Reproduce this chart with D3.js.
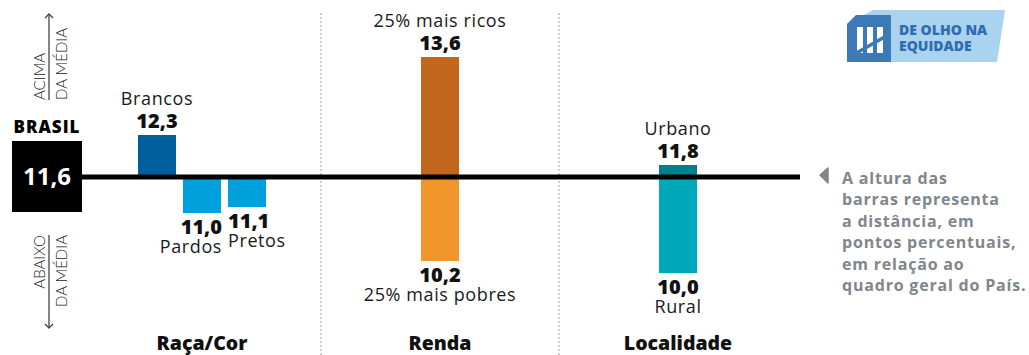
<!DOCTYPE html>
<html>
<head>
<meta charset="utf-8">
<script src="https://cdn.jsdelivr.net/npm/d3@7/dist/d3.min.js"></script>
<style>
  html, body { margin: 0; padding: 0; background: #fff; }
  svg { display: block; font-family: "Open Sans", "Noto Sans", sans-serif; }
</style>
</head>
<body>
<svg id="chart" width="1029" height="355"></svg>
<script>
// Indicator values (percent) by group, compared with the national figure
const brasil = 11.6;
const groups = ["Raça/Cor", "Renda", "Localidade"];
const barLabels = ["Brancos", "Pardos", "Pretos", "25% mais ricos", "25% mais pobres", "Urbano", "Rural"];
const barGroups = ["Raça/Cor", "Raça/Cor", "Raça/Cor", "Renda", "Renda", "Localidade", "Localidade"];
const barSlots = ["Brancos", "Pardos", "Pretos", "Renda", "Renda", "Localidade", "Localidade"];
const barValues = [12.3, 11.0, 11.1, 13.6, 10.2, 11.8, 10.0];
const barColors = ["#00609e", "#00a0dd", "#00a0dd", "#c0661d", "#f0962a", "#00808c", "#00a9b9"];
const noteLines = ["A altura das", "barras representa", "a distância, em", "pontos percentuais,", "em relação ao", "quadro geral do País."];

const bars = barLabels.map((label, i) => ({
  label, group: barGroups[i], slot: barSlots[i], value: barValues[i], color: barColors[i]
}));

const svg = d3.select("#chart");
const fmt = d3.formatLocale({ decimal: ",", thousands: ".", grouping: [3], currency: ["R$", ""] }).format(".1f");

// Scales
const y = d3.scaleLinear().domain([9.6, 13.6]).range([297, 57]);
const xGroup = d3.scaleBand().domain(groups).range([83, 797]);
const slotsOf = g => Array.from(new Set(bars.filter(b => b.group === g).map(b => b.slot)));
const slotScale = {};
groups.forEach(g => {
  const n = slotsOf(g).length;
  slotScale[g] = d3.scaleBand().domain(slotsOf(g))
    .range([-n * 45 / 2, n * 45 / 2])
    .paddingInner(7 / 45).paddingOuter(3.5 / 45);
});
const barX = b => xGroup(b.group) + xGroup.bandwidth() / 2 + slotScale[b.group](b.slot);
const barW = b => slotScale[b.group].bandwidth();
const y0 = y(brasil);

// Group separators
svg.append("g").selectAll("line")
  .data(groups.slice(1))
  .join("line")
  .attr("x1", d => xGroup(d)).attr("x2", d => xGroup(d))
  .attr("y1", 13).attr("y2", 355)
  .attr("stroke", "#9aa0a6").attr("stroke-width", 1)
  .attr("stroke-dasharray", "2,2");

// Bars
svg.append("g").selectAll("rect")
  .data(bars)
  .join("rect")
  .attr("x", barX)
  .attr("width", barW)
  .attr("y", d => Math.min(y(d.value), y0))
  .attr("height", d => Math.abs(y(d.value) - y0))
  .attr("fill", d => d.color);

// Reference line at the national value
svg.append("line")
  .attr("x1", 82).attr("x2", 800)
  .attr("y1", y0).attr("y2", y0)
  .attr("stroke", "#000").attr("stroke-width", 5);

// Bar labels: name and value, above rising bars and below falling ones
const labelAnchor = d => d.label === "Pardos" ? "end" : d.label === "Pretos" ? "start" : "middle";
const labelX = d => {
  const a = labelAnchor(d);
  return a === "end" ? barX(d) + barW(d) + 1 : a === "start" ? barX(d) : barX(d) + barW(d) / 2;
};
const lbl = svg.append("g").selectAll("g").data(bars).join("g");
lbl.append("text")
  .attr("x", labelX)
  .attr("y", d => d.value > brasil ? y(d.value) - 7 : y(d.value) + 21)
  .attr("text-anchor", labelAnchor)
  .attr("font-size", 20).attr("font-weight", 800).attr("fill", "#111")
  .text(d => fmt(d.value));
lbl.append("text")
  .attr("x", labelX)
  .attr("y", d => d.value > brasil ? y(d.value) - 30 : y(d.value) + 40)
  .attr("text-anchor", labelAnchor)
  .attr("font-size", 18).attr("letter-spacing", 0.6).attr("font-weight", 400).attr("fill", "#1a1a1a")
  .text(d => d.label);

// Group names
svg.append("g").selectAll("text")
  .data(groups)
  .join("text")
  .attr("x", d => xGroup(d) + xGroup.bandwidth() / 2)
  .attr("y", 350)
  .attr("text-anchor", "middle")
  .attr("font-size", 19.5).attr("font-weight", 800).attr("fill", "#111")
  .text(d => d);

// National value box
svg.append("text").attr("x", 47).attr("y", 133).attr("text-anchor", "middle")
  .attr("font-size", 17).attr("letter-spacing", 1).attr("font-weight", 800).attr("fill", "#000").text("BRASIL");
svg.append("rect").attr("x", 12).attr("y", y0 - 36).attr("width", 70).attr("height", 71).attr("fill", "#000");
svg.append("text").attr("x", 47).attr("y", y0 + 8).attr("text-anchor", "middle")
  .attr("font-size", 24).attr("font-weight", 700).attr("fill", "#fff").text(fmt(brasil));

// Above / below average side notes
function sideNote(yStart, yEnd, words, anchor) {
  const g = svg.append("g");
  g.append("line").attr("x1", 49).attr("x2", 49).attr("y1", yStart).attr("y2", yEnd)
    .attr("stroke", "#444").attr("stroke-width", 1.3);
  const dir = yEnd < yStart ? 1 : -1;
  g.append("path")
    .attr("d", `M45,${yEnd + dir * 4}L49,${yEnd}L53,${yEnd + dir * 4}`)
    .attr("fill", "none").attr("stroke", "#444").attr("stroke-width", 1.3);
  g.append("text").attr("transform", `translate(45,${yStart}) rotate(-90)`)
    .attr("text-anchor", anchor).attr("font-family", "Lato, sans-serif")
    .attr("font-size", 15).attr("font-weight", 300).attr("fill", "#222")
    .text(words[0]);
  g.append("text").attr("transform", `translate(67,${yStart}) rotate(-90)`)
    .attr("text-anchor", anchor).attr("font-family", "Lato, sans-serif")
    .attr("font-size", 15).attr("font-weight", 300).attr("fill", "#222")
    .text(words[1]);
}
sideNote(100, 14, ["ACIMA", "DA MÉDIA"], "start");
sideNote(235, 328, ["ABAIXO", "DA MÉDIA"], "end");

// Explanatory note
svg.append("path").attr("d", "M820,175L828,168L828,183Z").attr("fill", "#80868c")
  .attr("stroke", "#80868c").attr("stroke-width", 1.5).attr("stroke-linejoin", "round");
svg.append("text").attr("font-size", 16).attr("letter-spacing", 0.8).attr("font-weight", 700).attr("fill", "#80868c")
  .selectAll("tspan").data(noteLines).join("tspan")
  .attr("x", 842).attr("y", (d, i) => 184 + i * 21.4)
  .text(d => d);

// Badge
const badge = svg.append("g");
badge.append("path").attr("d", "M873,10L1005,10L997,62L847,62L847,24Z").attr("fill", "#a9d3ef");
badge.append("path").attr("d", "M847,24L856,15L891,15L891,62L847,62Z").attr("fill", "#3d79b6");
[857, 867, 877].forEach(bx => {
  badge.append("rect").attr("x", bx).attr("y", 27).attr("width", 6).attr("height", 26).attr("fill", "#fff");
});
badge.append("path").attr("d", "M853,53L888,33L888,37L853,57Z").attr("fill", "#3d79b6");
badge.append("text").attr("font-size", 14).attr("font-weight", 800).attr("fill", "#2f6db0")
  .selectAll("tspan").data(["DE OLHO NA", "EQUIDADE"]).join("tspan")
  .attr("x", 899).attr("y", (d, i) => 35 + i * 16).text(d => d);
</script>
</body>
</html>
